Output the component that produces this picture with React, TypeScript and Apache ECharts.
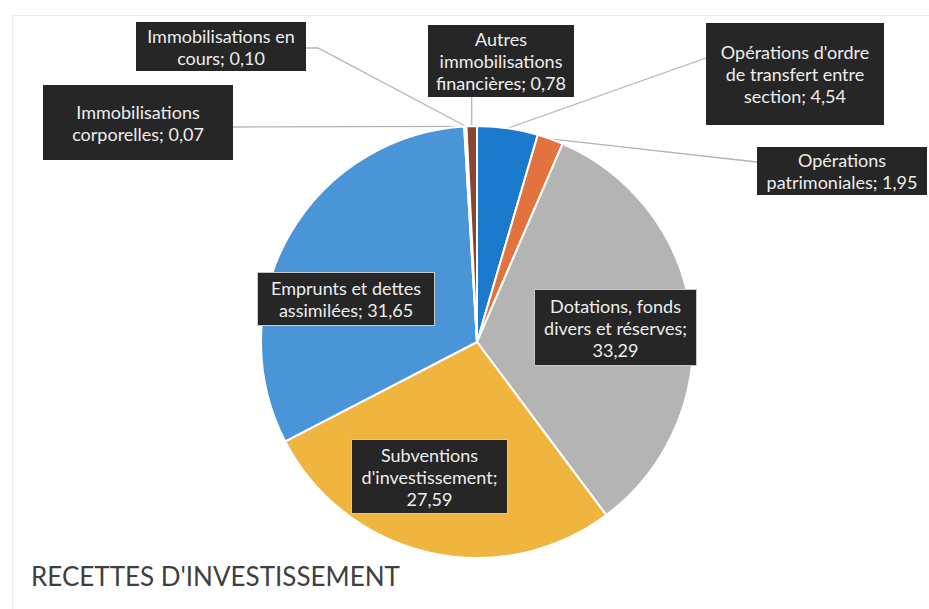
import React, { useEffect, useRef } from 'react';
import * as echarts from 'echarts';

const categories = [
  "Opérations d'ordre de transfert entre section",
  'Opérations patrimoniales',
  'Dotations, fonds divers et réserves',
  "Subventions d'investissement",
  'Emprunts et dettes assimilées',
  'Immobilisations corporelles',
  'Immobilisations en cours',
  'Autres immobilisations financières',
];
const values = [4.54, 1.95, 33.29, 27.59, 31.65, 0.07, 0.1, 0.78];
const colors = ['#1b7acb', '#e2733f', '#b4b4b4', '#f0b53e', '#4a95d8', '#70ad47', '#255e91', '#8e4331'];
// word counts after which a label line breaks
const lineBreaks = [[2, 5], [1], [2, 5], [1, 2], [3], [1], [2], [1, 2]];
const insideLabel = [false, false, true, true, true, false, false, false];
const title = "RECETTES D'INVESTISSEMENT";

// label box styling (left, top, right, bottom in px)
const labelBoxes = [
  [706, 23, 884, 125],
  [757, 147, 927, 195],
  [535, 290, 696, 365],
  [352, 440, 507, 513],
  [258, 273, 434, 325],
  [43, 85, 233, 160],
  [136, 22, 306, 71],
  [428, 25, 574, 97],
];
// leader line end points (null x = keep slice x)
const leaderEnds: (number | null)[][][] = [
  [[706, 58]],
  [[757, 162]],
  [],
  [],
  [],
  [[233, 127]],
  [[318, 48], [306, 48]],
  [[null, 97]],
];

const LH = 22;

function fmt(v: number) {
  return v.toFixed(2).replace('.', ',');
}
function wrap(text: string, breaks: number[]) {
  const w = text.split(' ');
  const lines: string[] = [];
  let prev = 0;
  for (const b of breaks) {
    lines.push(w.slice(prev, b).join(' '));
    prev = b;
  }
  lines.push(w.slice(prev).join(' '));
  return lines.join('\n');
}

export default function App() {
  const ref = useRef<HTMLDivElement>(null);
  useEffect(() => {
    if (!ref.current) return;
    const chart = echarts.init(ref.current, undefined, { renderer: 'svg' });
    const data = categories.map((name, i) => {
      const [l, t, r, b] = labelBoxes[i];
      const n = lineBreaks[i].length + 1;
      const padV = Math.max(0, (b - t - n * LH) / 2);
      return {
        name,
        value: values[i],
        itemStyle: { color: colors[i] },
        label: {
          width: r - l - 8,
          padding: [padV, 4, padV, 4],
          ...(insideLabel[i] ? { borderColor: '#c8c8c8', borderWidth: 1 } : {}),
        },
        labelLine: { show: !insideLabel[i] },
      };
    });
    chart.setOption({
      animation: false,
      backgroundColor: '#ffffff',
      title: {
        text: title,
        left: 31,
        top: 563,
        padding: 0,
        textStyle: { fontFamily: 'Lato', fontSize: 26, fontWeight: 'normal', color: '#3f3f3f' },
      },
      graphic: [
        {
          type: 'rect',
          shape: { x: 12.5, y: 15.5, width: 940, height: 620 },
          style: { fill: 'none', stroke: '#ececec', lineWidth: 1 },
          silent: true,
        },
      ],
      series: [
        {
          type: 'pie',
          center: [477, 342],
          radius: 216,
          startAngle: 90,
          clockwise: true,
          avoidLabelOverlap: false,
          itemStyle: { borderColor: '#ffffff', borderWidth: 2 },
          label: {
            show: true,
            position: 'outside',
            formatter: (p: any) => wrap(`${p.name}; ${fmt(p.value)}`, lineBreaks[p.dataIndex]),
            fontFamily: 'Lato',
            fontSize: 18,
            lineHeight: LH,
            color: '#ededed',
            backgroundColor: '#262626',
            align: 'center',
            overflow: 'none',
          },
          labelLine: {
            show: true,
            lineStyle: { color: '#b4b4b4', width: 1.3 },
          },
          labelLayout: (params: any) => {
            const i = params.dataIndex;
            const [l, t, r, b] = labelBoxes[i];
            const out: any = {
              x: (l + r) / 2,
              y: (t + b) / 2,
              align: 'center',
              verticalAlign: 'middle',
            };
            const pts = params.labelLinePoints;
            if (pts && leaderEnds[i].length) {
              const start = pts[0];
              out.labelLinePoints = [
                start,
                ...leaderEnds[i].map((p) => [p[0] == null ? start[0] : p[0], p[1]]),
              ];
            }
            return out;
          },
          data,
        },
      ],
    });
    return () => chart.dispose();
  }, []);
  return (
    <div
      ref={ref}
      style={{ position: 'fixed', left: 0, top: 0, width: 929, height: 609 }}
    />
  );
}
